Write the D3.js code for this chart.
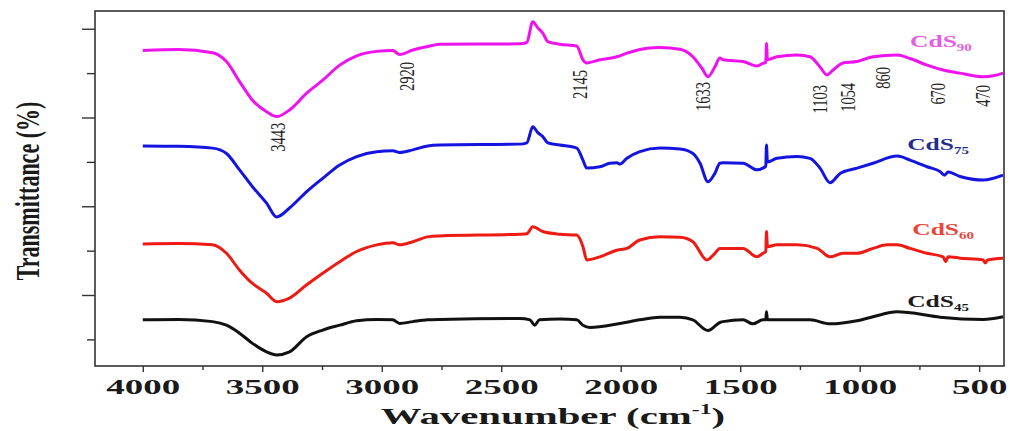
<!DOCTYPE html>
<html>
<head>
<meta charset="utf-8">
<script src="https://cdn.jsdelivr.net/npm/d3@7"></script>
<style>
  body { margin: 0; background: #fff; }
  text { font-family: 'Liberation Serif', 'Times New Roman', serif; }
</style>
</head>
<body>
<div class="chart"></div>
<script>
// FTIR spectra, [wavenumber cm-1, transmittance (a.u.)]
const cds90 = [[4000,75.1],[3850,75.3],[3708,74.6],[3650,72.6],[3595,68.1],[3541,63.9],[3482,61.3],[3440,60.2],[3386,61.7],[3314,65.5],[3247,68.4],[3176,71.8],[3105,73.9],[3021,74.9],[2954,75.1],[2925,74.2],[2870,75.2],[2808,76.0],[2757,76.5],[2422,76.6],[2393,76.9],[2368,81.6],[2347,80.2],[2326,79.0],[2305,77.1],[2255,76.5],[2184,76.1],[2158,73.0],[2142,72.3],[2087,73.0],[2016,73.7],[1974,74.5],[1890,75.6],[1836,75.8],[1752,75.4],[1698,73.7],[1660,71.1],[1635,69.2],[1606,71.4],[1585,73.4],[1572,73.0],[1488,72.6],[1430,71.6],[1405,72.2],[1393,72.4],[1390,76.7],[1386,73.0],[1346,73.7],[1262,74.1],[1208,73.7],[1166,71.4],[1137,69.6],[1111,70.7],[1070,72.3],[1011,72.6],[944,73.7],[843,74.1],[789,73.3],[718,71.8],[651,70.7],[580,70.0],[483,69.2],[441,69.4],[400,70.0]];
const cds75 = [[4000,53.6],[3850,53.5],[3708,53.1],[3650,51.9],[3595,48.2],[3541,44.4],[3482,40.7],[3440,37.6],[3386,39.6],[3314,43.3],[3247,46.3],[3176,49.3],[3105,51.2],[3021,52.3],[2954,52.5],[2925,52.1],[2870,52.7],[2808,53.6],[2757,53.8],[2422,54.0],[2393,54.3],[2368,57.9],[2347,56.6],[2326,55.7],[2305,54.3],[2255,53.8],[2184,53.1],[2158,50.4],[2142,48.6],[2087,48.9],[2045,49.7],[2016,49.8],[2003,49.5],[1974,50.8],[1920,52.3],[1836,53.1],[1752,52.9],[1698,51.9],[1668,49.7],[1635,45.5],[1606,47.4],[1585,49.7],[1572,49.8],[1488,49.7],[1430,48.2],[1405,48.6],[1393,49.0],[1390,53.8],[1386,50.0],[1346,50.8],[1262,51.2],[1208,50.8],[1166,48.6],[1124,45.3],[1082,47.4],[1011,48.6],[944,49.7],[843,51.3],[789,50.4],[718,48.9],[663,47.8],[645,47.0],[630,47.7],[580,46.7],[483,45.9],[400,47.0]];
const cds60 = [[4000,31.5],[3850,31.6],[3708,31.3],[3650,29.4],[3595,25.6],[3541,22.6],[3482,20.4],[3440,18.5],[3386,19.3],[3314,22.3],[3247,24.9],[3176,27.5],[3105,29.8],[3021,31.3],[2954,31.8],[2925,31.3],[2870,32.0],[2808,33.1],[2757,33.3],[2422,33.7],[2393,33.8],[2368,35.4],[2326,34.3],[2255,33.7],[2184,33.5],[2158,30.9],[2142,27.9],[2087,28.6],[2016,30.1],[1974,30.5],[1920,32.4],[1836,33.1],[1752,33.0],[1698,32.0],[1639,27.9],[1606,29.4],[1585,30.5],[1488,30.5],[1430,28.6],[1405,29.4],[1393,29.8],[1390,34.3],[1386,30.9],[1346,31.3],[1262,31.3],[1178,30.5],[1124,28.6],[1070,29.4],[1011,29.4],[944,30.5],[885,31.3],[843,31.3],[789,30.5],[718,29.4],[651,28.6],[640,27.5],[630,28.6],[580,28.3],[483,27.9],[475,27.2],[465,27.9],[400,28.3]];
const cds45 = [[4000,14.4],[3850,14.5],[3708,14.0],[3650,13.2],[3595,11.4],[3541,9.1],[3482,7.2],[3440,6.5],[3386,7.2],[3314,10.6],[3247,12.1],[3176,13.2],[3105,14.2],[3021,14.5],[2954,14.4],[2925,13.6],[2870,14.0],[2808,14.4],[2757,14.5],[2422,14.7],[2380,14.4],[2360,13.2],[2340,14.4],[2255,14.6],[2184,14.4],[2158,13.2],[2129,12.7],[2003,13.6],[1920,14.4],[1836,15.0],[1752,15.0],[1698,14.4],[1635,12.0],[1585,13.8],[1572,14.0],[1488,14.4],[1447,13.5],[1405,14.4],[1393,14.4],[1390,16.2],[1386,14.4],[1346,14.4],[1208,14.4],[1124,13.5],[1011,14.2],[944,15.1],[843,16.2],[789,16.0],[663,15.0],[483,14.5],[400,15.1]];

const seriesSubs = ['90', '75', '60', '45'];
const seriesColors = ['#ee12ee', '#1414e0', '#ee1a14', '#111111'];
const labelColors = ['#e65ce6', '#1f2f8f', '#e8463c', '#1c1c1c'];
const labelAtWn = [789, 801, 780, 801];
const labelAtT = [75.9, 52.7, 33.5, 17.3];

const peakLabels = ['3443', '2920', '2145', '1633', '1103', '1054', '860', '670', '470'];
const peakAtWn = [3436, 2896, 2171, 1656, 1166, 1049, 902, 672, 483];
const peakTopT = [58.8, 72.5, 70.7, 68.0, 67.3, 67.8, 71.4, 67.8, 67.3];

const xMajor = [4000, 3500, 3000, 2500, 2000, 1500, 1000, 500];
const xMinor = [3750, 3250, 2750, 2250, 1750, 1250, 750];
const yMajor = [20, 40, 60, 80];
const yMinor = [10, 30, 50, 70];

const W = 1010, H = 431;
const margin = ({top: 11, right: 1004, bottom: 366, left: 95});
const sx = 1.5; // the figure is stretched horizontally

const svg = d3.select('.chart').append('svg')
    .attr('width', W)
    .attr('height', H);

const xScale = d3.scaleLinear().domain([4200, 396]).range([margin.left, margin.right]);
const yScale = d3.scaleLinear().domain([4, 84]).range([margin.bottom, margin.top]);

const line = d3.line()
    .x(d => xScale(d[0]))
    .y(d => yScale(d[1]))
    .curve(d3.curveMonotoneX);

[cds90, cds75, cds60, cds45].forEach((s, i) => {
    svg.append('path')
        .datum(s)
        .attr('fill', 'none')
        .attr('stroke', seriesColors[i])
        .attr('stroke-width', 3)
        .attr('stroke-linejoin', 'round')
        .attr('d', line);
});

// frame
svg.append('rect')
    .attr('x', margin.left).attr('y', margin.top)
    .attr('width', margin.right - margin.left).attr('height', margin.bottom - margin.top)
    .attr('fill', 'none')
    .attr('stroke', '#333')
    .attr('stroke-width', 1.6);

// x axis
const xAxis = svg.append('g')
    .attr('transform', `translate(0,${margin.bottom})`)
    .call(d3.axisBottom(xScale).tickValues(xMajor).tickSize(6).tickSizeOuter(0).tickFormat(d3.format('d')));
xAxis.select('.domain').remove();
xAxis.selectAll('line').attr('stroke', '#333').attr('stroke-width', 1.4);
xAxis.selectAll('text')
    .attr('y', 28).attr('dy', 0)
    .attr('font-size', 22)
    .attr('font-weight', 'bold')
    .attr('fill', '#1a1a1a')
    .attr('transform', 'scale(1.68,1)');

const xAxisMinor = svg.append('g')
    .attr('transform', `translate(0,${margin.bottom})`)
    .call(d3.axisBottom(xScale).tickValues(xMinor).tickSize(4).tickFormat(''));
xAxisMinor.select('.domain').remove();
xAxisMinor.selectAll('line').attr('stroke', '#333').attr('stroke-width', 1.4);

// y axis (no labels)
const yAxis = svg.append('g')
    .attr('transform', `translate(${margin.left},0)`)
    .call(d3.axisLeft(yScale).tickValues(yMajor).tickSize(13).tickFormat(''));
yAxis.select('.domain').remove();
yAxis.selectAll('line').attr('stroke', '#333').attr('stroke-width', 1.4);

const yAxisMinor = svg.append('g')
    .attr('transform', `translate(${margin.left},0)`)
    .call(d3.axisLeft(yScale).tickValues(yMinor).tickSize(8).tickFormat(''));
yAxisMinor.select('.domain').remove();
yAxisMinor.selectAll('line').attr('stroke', '#333').attr('stroke-width', 1.4);

// axis titles
const xt = svg.append('text')
    .attr('transform', 'translate(553,424) scale(1.7,1)')
    .attr('text-anchor', 'middle')
    .attr('font-size', 24)
    .attr('font-weight', 'bold')
    .attr('fill', '#1a1a1a');
xt.append('tspan').text('Wavenumber (cm');
xt.append('tspan').attr('font-size', 14).attr('dy', -10).text('-1');
xt.append('tspan').attr('dy', 10).text(')');

svg.append('text')
    .attr('transform', `translate(39,191) scale(${sx},1) rotate(-90)`)
    .attr('text-anchor', 'middle')
    .attr('font-size', 22)
    .attr('font-weight', 'bold')
    .attr('fill', '#1a1a1a')
    .text('Transmittance (%)');

// peak annotations
peakLabels.forEach((p, i) => {
    svg.append('text')
        .attr('transform', `translate(${xScale(peakAtWn[i])},${yScale(peakTopT[i])}) scale(1.4,1) rotate(-90)`)
        .attr('text-anchor', 'end')
        .attr('dy', '0.35em')
        .attr('font-size', 14.5)
        .attr('fill', '#222')
        .text(p);
});

// series labels
seriesSubs.forEach((s, i) => {
    const t = svg.append('text')
        .attr('transform', `translate(${xScale(labelAtWn[i])},${yScale(labelAtT[i])}) scale(${sx},1)`)
        .attr('font-size', 17)
        .attr('font-weight', 'bold')
        .attr('fill', labelColors[i]);
    t.append('tspan').text('CdS');
    t.append('tspan').attr('font-size', 10).attr('dy', 4).text(s);
});
</script>
</body>
</html>
